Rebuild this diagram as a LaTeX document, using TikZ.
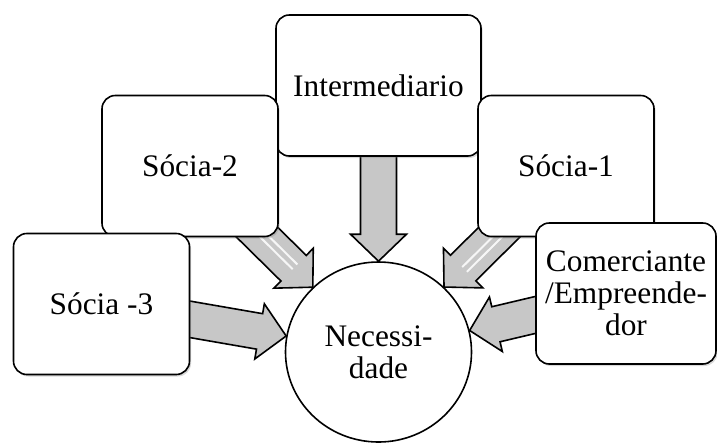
\documentclass[tikz,border=0pt]{standalone}
\usepackage{fontspec}
\setmainfont{Liberation Serif}
\usetikzlibrary{calc,shapes.geometric,shadows,backgrounds}

\tikzset{
  caja/.style={draw=black, line width=1.2pt, fill=white, rounded corners=10pt,
    minimum width=132pt, minimum height=105.75pt, align=center, inner sep=2pt,
    font=\fontsize{23.5}{24}\selectfont,
    drop shadow={shadow xshift=1.2pt, shadow yshift=-1.5pt, opacity=0.3}},
  necesidad/.style={ellipse, draw=black, line width=1.2pt, fill=white,
    minimum width=139.5pt, minimum height=135pt, align=center, inner sep=0pt,
    font=\fontsize{23.5}{24}\selectfont},
  flecha/.style={draw=black, line width=1.2pt, line join=miter,
    left color=black!22, middle color=black!45, right color=black!22},
  brillo/.style={white, line width=1.5pt, opacity=0.85}
}

% block arrow: #1 shading angle, #2 source node, #3 tip coordinate
\newcommand{\flecha}[3]{%
  \coordinate (fb) at ($(#3)!20.25pt!(#2.center)$);
  \draw[flecha, shading angle=#1] ($(#2.center)!13.5pt!90:(#3)$) -- ($(fb)!13.5pt!90:(#3)$)
    -- ($(fb)!21pt!90:(#3)$) -- (#3) -- ($(fb)!21pt!-90:(#3)$)
    -- ($(fb)!13.5pt!-90:(#3)$) -- ($(#2.center)!13.5pt!-90:(#3)$) -- cycle;
}

\begin{document}
\begin{tikzpicture}[x=0.75pt, y=-0.75pt]

\useasboundingbox (0,0) rectangle (717,444);

% centre
\node[necesidad] (nec) at (378.5,352) {Necessi-\\dade};

% boxes
\node[caja, minimum width=153.75pt] (inter) at (378.5,85.5) {Intermediario};
\node[caja] (s2) at (190,166) {Sócia-2};
\node[caja] (s1) at (566,166) {Sócia-1};
\node[caja] (s3) at (101.5,304) {Sócia -3};
\node[caja, minimum width=135pt] (com) at (626,293.5) {Comerciante\\/Empreende-\\dor};

% tips on the border of the centre
\path (inter) -- (nec) coordinate[pos=1] (ti);
\path (s2) -- (nec) coordinate[pos=1] (t2);
\path (s1) -- (nec) coordinate[pos=1] (t1);
\path (s3) -- (nec) coordinate[pos=1] (t3);
\path (com) -- (nec) coordinate[pos=1] (tc);

\begin{scope}[on background layer]
\flecha{0}{inter}{ti}
\flecha{45}{s2}{t2}
\draw[brillo] ($(s2.center)!-1pt!90:(t2)$) -- ($(fb)!-1pt!90:(t2)$);
\draw[brillo] ($(s2.center)!4pt!90:(t2)$) -- ($(fb)!4pt!90:(t2)$);
\flecha{-45}{s1}{t1}
\draw[brillo] ($(s1.center)!-1pt!90:(t1)$) -- ($(fb)!-1pt!90:(t1)$);
\draw[brillo] ($(s1.center)!4pt!90:(t1)$) -- ($(fb)!4pt!90:(t1)$);
\flecha{80}{s3}{t3}
\flecha{-77}{com}{tc}
\end{scope}

\end{tikzpicture}
\end{document}
